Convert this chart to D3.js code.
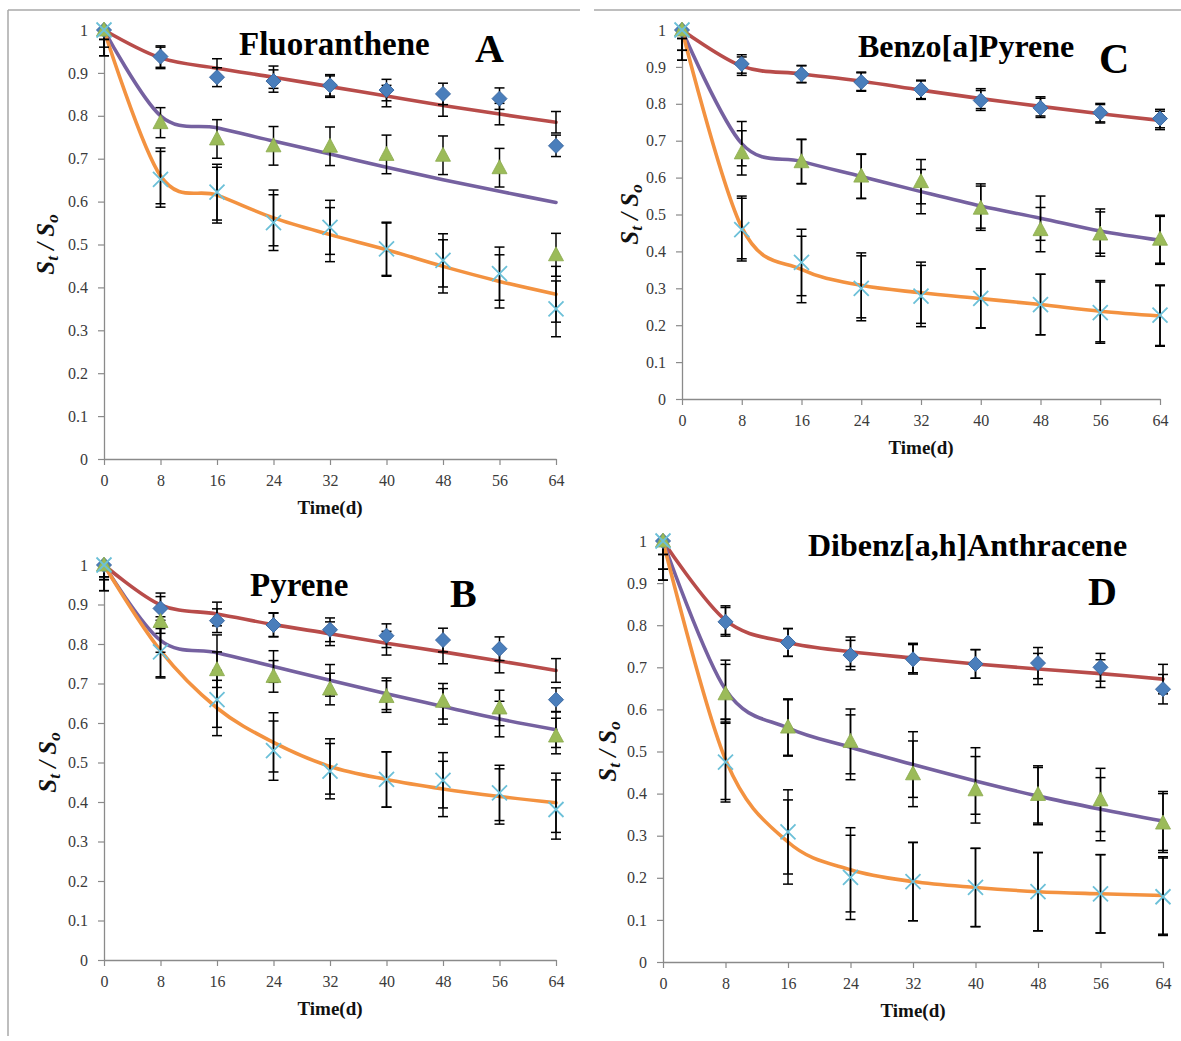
<!DOCTYPE html>
<html>
<head>
<meta charset="utf-8">
<script src="https://cdn.jsdelivr.net/npm/d3@7"></script>
<style>
  html, body { margin: 0; padding: 0; background: #fff; }
  svg { display: block; }
</style>
</head>
<body>
<script>
// Sampling days and axis ticks
const days = [0, 8, 16, 24, 32, 40, 48, 56, 64];
const xTickLabels = ["0", "8", "16", "24", "32", "40", "48", "56", "64"];
const yTickValues = [0, 0.1, 0.2, 0.3, 0.4, 0.5, 0.6, 0.7, 0.8, 0.9, 1];
const yTickLabels = ["0", "0.1", "0.2", "0.3", "0.4", "0.5", "0.6", "0.7", "0.8", "0.9", "1"];

// Fluoranthene
const flDiamond     = [1, 0.938, 0.890, 0.881, 0.871, 0.860, 0.851, 0.840, 0.730];
const flDiamondErr  = [0.022, 0.025, 0.022, 0.026, 0.025, 0.025, 0.025, 0.025, 0.025];
const flDiamondFit  = [1, 0.935, 0.911, 0.890, 0.868, 0.846, 0.824, 0.804, 0.785];
const flTriangle    = [1, 0.784, 0.746, 0.730, 0.729, 0.710, 0.708, 0.679, 0.476];
const flTriangleErr = [0.04, 0.035, 0.045, 0.045, 0.045, 0.045, 0.045, 0.045, 0.05];
const flTriangleFit = [1, 0.800, 0.772, 0.741, 0.711, 0.680, 0.651, 0.624, 0.598];
const flCross       = [1, 0.652, 0.622, 0.551, 0.540, 0.490, 0.463, 0.432, 0.350];
const flCrossErr    = [0.06, 0.065, 0.065, 0.065, 0.063, 0.062, 0.062, 0.062, 0.065];
const flCrossFit    = [1, 0.660, 0.615, 0.562, 0.523, 0.488, 0.449, 0.414, 0.384];

// Pyrene
const pyDiamond     = [1, 0.890, 0.859, 0.848, 0.836, 0.821, 0.810, 0.788, 0.659];
const pyDiamondErr  = [0.03, 0.03, 0.03, 0.03, 0.03, 0.03, 0.03, 0.03, 0.03];
const pyDiamondFit  = [1, 0.899, 0.876, 0.849, 0.826, 0.802, 0.780, 0.757, 0.733];
const pyTriangle    = [1, 0.857, 0.735, 0.718, 0.686, 0.667, 0.655, 0.638, 0.567];
const pyTriangleErr = [0.037, 0.03, 0.045, 0.04, 0.04, 0.04, 0.045, 0.045, 0.045];
const pyTriangleFit = [1, 0.809, 0.778, 0.743, 0.708, 0.674, 0.642, 0.610, 0.583];
const pyCross       = [1, 0.780, 0.659, 0.530, 0.478, 0.457, 0.455, 0.423, 0.381];
const pyCrossErr    = [0.065, 0.066, 0.07, 0.075, 0.07, 0.07, 0.07, 0.07, 0.075];
const pyCrossFit    = [1, 0.783, 0.638, 0.551, 0.490, 0.457, 0.433, 0.414, 0.398];

// Benzo[a]Pyrene
const bpDiamond     = [1, 0.908, 0.880, 0.859, 0.839, 0.809, 0.789, 0.776, 0.760];
const bpDiamondErr  = [0.023, 0.025, 0.023, 0.025, 0.025, 0.027, 0.026, 0.025, 0.025];
const bpDiamondFit  = [1, 0.902, 0.881, 0.861, 0.837, 0.814, 0.793, 0.773, 0.755];
const bpTriangle    = [1, 0.667, 0.643, 0.604, 0.589, 0.517, 0.459, 0.447, 0.433];
const bpTriangleErr = [0.055, 0.06, 0.06, 0.06, 0.06, 0.06, 0.06, 0.06, 0.065];
const bpTriangleFit = [1, 0.692, 0.644, 0.603, 0.562, 0.523, 0.490, 0.455, 0.430];
const bpCross       = [1, 0.459, 0.370, 0.300, 0.279, 0.273, 0.256, 0.234, 0.227];
const bpCrossErr    = [0.082, 0.085, 0.09, 0.088, 0.083, 0.08, 0.082, 0.083, 0.082];
const bpCrossFit    = [1, 0.465, 0.351, 0.308, 0.288, 0.272, 0.256, 0.238, 0.225];

// Dibenz[a,h]Anthracene
const dbDiamond     = [1, 0.808, 0.759, 0.729, 0.719, 0.708, 0.710, 0.700, 0.648];
const dbDiamondErr  = [0.032, 0.034, 0.033, 0.035, 0.035, 0.034, 0.037, 0.033, 0.035];
const dbDiamondFit  = [1, 0.812, 0.759, 0.737, 0.722, 0.708, 0.696, 0.685, 0.672];
const dbTriangle    = [1, 0.637, 0.558, 0.524, 0.447, 0.409, 0.398, 0.385, 0.330];
const dbTriangleErr = [0.067, 0.07, 0.067, 0.077, 0.078, 0.079, 0.068, 0.075, 0.07];
const dbTriangleFit = [1, 0.647, 0.556, 0.510, 0.469, 0.430, 0.394, 0.363, 0.335];
const dbCross       = [1, 0.475, 0.309, 0.201, 0.191, 0.177, 0.167, 0.162, 0.155];
const dbCrossErr    = [0.093, 0.095, 0.1, 0.1, 0.093, 0.093, 0.093, 0.093, 0.092];
const dbCrossFit    = [1, 0.481, 0.285, 0.219, 0.191, 0.177, 0.167, 0.162, 0.158];

// Colours
const COL = {
  diamond: "#4a7ebb", diamondEdge: "#3c6aa3",
  triangle: "#9bbb59",
  cross: "#6cc0d8",
  red: "#b84c4a", purple: "#7561a0", orange: "#f39240",
  axis: "#8a8a8a", tick: "#3a3a3a"
};
const SERIF = "'Liberation Serif', 'Times New Roman', serif";

// Panel layout (pixel frame of each plot area) and captions;
// fitBars says which fitted curves carry error bars of their own
const panels = [
  { id: "A", name: "Fluoranthene", left: 104, right: 556, top: 30, bottom: 459,
    nameX: 239, nameY: 55, nameSize: 33, letterX: 475, letterY: 62, letterSize: 40, yLabelX: 54,
    fitBars: [true, false, true],
    series: [[flDiamond, flDiamondErr, flDiamondFit], [flTriangle, flTriangleErr, flTriangleFit], [flCross, flCrossErr, flCrossFit]] },
  { id: "C", name: "Benzo[a]Pyrene", left: 682, right: 1160, top: 30, bottom: 399,
    nameX: 858, nameY: 57, nameSize: 32, letterX: 1099, letterY: 73, letterSize: 42, yLabelX: 638,
    fitBars: [true, true, true],
    series: [[bpDiamond, bpDiamondErr, bpDiamondFit], [bpTriangle, bpTriangleErr, bpTriangleFit], [bpCross, bpCrossErr, bpCrossFit]] },
  { id: "B", name: "Pyrene", left: 104, right: 556, top: 565, bottom: 960,
    nameX: 250, nameY: 596, nameSize: 33, letterX: 450, letterY: 607, letterSize: 40, yLabelX: 56,
    fitBars: [true, true, true],
    series: [[pyDiamond, pyDiamondErr, pyDiamondFit], [pyTriangle, pyTriangleErr, pyTriangleFit], [pyCross, pyCrossErr, pyCrossFit]] },
  { id: "D", name: "Dibenz[a,h]Anthracene", left: 663, right: 1163, top: 541, bottom: 962,
    nameX: 808, nameY: 556, nameSize: 32, letterX: 1088, letterY: 605, letterSize: 40, yLabelX: 616,
    fitBars: [true, true, true],
    series: [[dbDiamond, dbDiamondErr, dbDiamondFit], [dbTriangle, dbTriangleErr, dbTriangleFit], [dbCross, dbCrossErr, dbCrossFit]] }
];

const svg = d3.select("body").append("svg")
  .attr("width", 1181).attr("height", 1041);

// Thin frame lines at the page edges
svg.append("line").attr("x1", 8).attr("y1", 10).attr("x2", 580).attr("y2", 10)
  .attr("stroke", "#a8a8a8").attr("stroke-width", 1.5);
svg.append("line").attr("x1", 594).attr("y1", 10).attr("x2", 1181).attr("y2", 10)
  .attr("stroke", "#a8a8a8").attr("stroke-width", 1.5);
svg.append("line").attr("x1", 8).attr("y1", 10).attr("x2", 8).attr("y2", 1036)
  .attr("stroke", "#a8a8a8").attr("stroke-width", 1.5);

const fitColours = [COL.red, COL.purple, COL.orange];
const markerKinds = ["diamond", "triangle", "cross"];

function drawMarker(g, kind, cx, cy) {
  if (kind === "diamond") {
    const r = 7.5;
    g.append("path")
      .attr("d", `M${cx},${cy - r}L${cx + r},${cy}L${cx},${cy + r}L${cx - r},${cy}Z`)
      .attr("fill", COL.diamond).attr("stroke", COL.diamondEdge).attr("stroke-width", 1);
  } else if (kind === "triangle") {
    g.append("path")
      .attr("d", `M${cx},${cy - 8}L${cx + 7.5},${cy + 6}L${cx - 7.5},${cy + 6}Z`)
      .attr("fill", COL.triangle).attr("stroke", "#8aa94c").attr("stroke-width", 0.8);
  } else {
    const r = 7.5;
    g.append("path")
      .attr("d", `M${cx - r},${cy - r}L${cx + r},${cy + r}M${cx - r},${cy + r}L${cx + r},${cy - r}`)
      .attr("stroke", COL.cross).attr("stroke-width", 1.8).attr("fill", "none");
  }
}

panels.forEach((p, pi) => {
  const x = d3.scaleLinear().domain([0, 64]).range([p.left, p.right]);
  const y = d3.scaleLinear().domain([0, 1]).range([p.bottom, p.top]);
  const g = svg.append("g");

  // Axes
  const yAxis = d3.axisLeft(y).tickValues(yTickValues)
    .tickFormat((d, i) => yTickLabels[i]).tickSize(6).tickSizeOuter(0).tickPadding(10);
  const xAxis = d3.axisBottom(x).tickValues(days)
    .tickFormat((d, i) => xTickLabels[i]).tickSize(6).tickSizeOuter(0).tickPadding(10);

  [[yAxis, `translate(${p.left},0)`], [xAxis, `translate(0,${p.bottom})`]].forEach(([ax, tr]) => {
    const a = g.append("g").attr("transform", tr).call(ax);
    a.select(".domain").attr("stroke", COL.axis).attr("stroke-width", 1.3);
    a.selectAll(".tick line").attr("stroke", COL.axis).attr("stroke-width", 1.2);
    a.selectAll(".tick text").attr("fill", COL.tick)
      .attr("font-family", SERIF).attr("font-size", 16);
  });

  // Axis titles
  g.append("text")
    .attr("x", (p.left + p.right) / 2).attr("y", p.bottom + 55)
    .attr("text-anchor", "middle").attr("font-family", SERIF)
    .attr("font-weight", "bold").attr("font-size", 19).attr("fill", "#111")
    .text("Time(d)");

  const yl = g.append("text")
    .attr("transform", `translate(${p.yLabelX},${(p.top + p.bottom) / 2}) rotate(-90)`)
    .attr("text-anchor", "middle").attr("font-family", SERIF)
    .attr("font-weight", "bold").attr("font-style", "italic")
    .attr("font-size", 25).attr("fill", "#111");
  yl.append("tspan").text("S");
  yl.append("tspan").attr("dy", 4).attr("font-size", 17).text("t");
  yl.append("tspan").attr("dy", -4).text(" / S");
  yl.append("tspan").attr("dy", 4).attr("font-size", 17).text("o");

  // Caption and panel letter
  g.append("text").attr("x", p.nameX).attr("y", p.nameY)
    .attr("font-family", SERIF).attr("font-weight", "bold").attr("font-size", p.nameSize)
    .attr("fill", "#000").text(p.name);
  g.append("text").attr("x", p.letterX).attr("y", p.letterY)
    .attr("font-family", SERIF).attr("font-weight", "bold").attr("font-size", p.letterSize)
    .attr("fill", "#000").text(p.id);

  // Clip error bars to the plot area
  const clipId = `plot-clip-${pi}`;
  svg.append("clipPath").attr("id", clipId).append("rect")
    .attr("x", p.left - 20).attr("y", p.top)
    .attr("width", p.right - p.left + 40).attr("height", p.bottom - p.top);

  // Fitted curves
  const line = d3.line()
    .x((d, i) => x(days[i])).y(d => y(d))
    .curve(d3.curveCatmullRom.alpha(0));
  p.series.forEach((s, si) => {
    g.append("path").attr("d", line(s[2]))
      .attr("fill", "none").attr("stroke", fitColours[si])
      .attr("stroke-width", 3.6).attr("stroke-linecap", "round");
  });

  // Error bars on measured points and on the fitted values
  const eb = g.append("g").attr("clip-path", `url(#${clipId})`)
    .attr("stroke", "#000").attr("stroke-width", 1.5);
  p.series.forEach((s, si) => {
    const err = s[1];
    const sets = p.fitBars[si] ? [s[0], s[2]] : [s[0]];
    sets.forEach(vals => {
      vals.forEach((v, i) => {
        const cx = x(days[i]);
        const y1 = y(v + err[i]), y2 = y(v - err[i]);
        eb.append("line").attr("x1", cx).attr("x2", cx).attr("y1", y1).attr("y2", y2);
        eb.append("line").attr("x1", cx - 5).attr("x2", cx + 5).attr("y1", y1).attr("y2", y1);
        eb.append("line").attr("x1", cx - 5).attr("x2", cx + 5).attr("y1", y2).attr("y2", y2);
      });
    });
  });

  // Measured points
  const mk = g.append("g");
  p.series.forEach((s, si) => {
    s[0].forEach((v, i) => drawMarker(mk, markerKinds[si], x(days[i]), y(v)));
  });
});
</script>
</body>
</html>
